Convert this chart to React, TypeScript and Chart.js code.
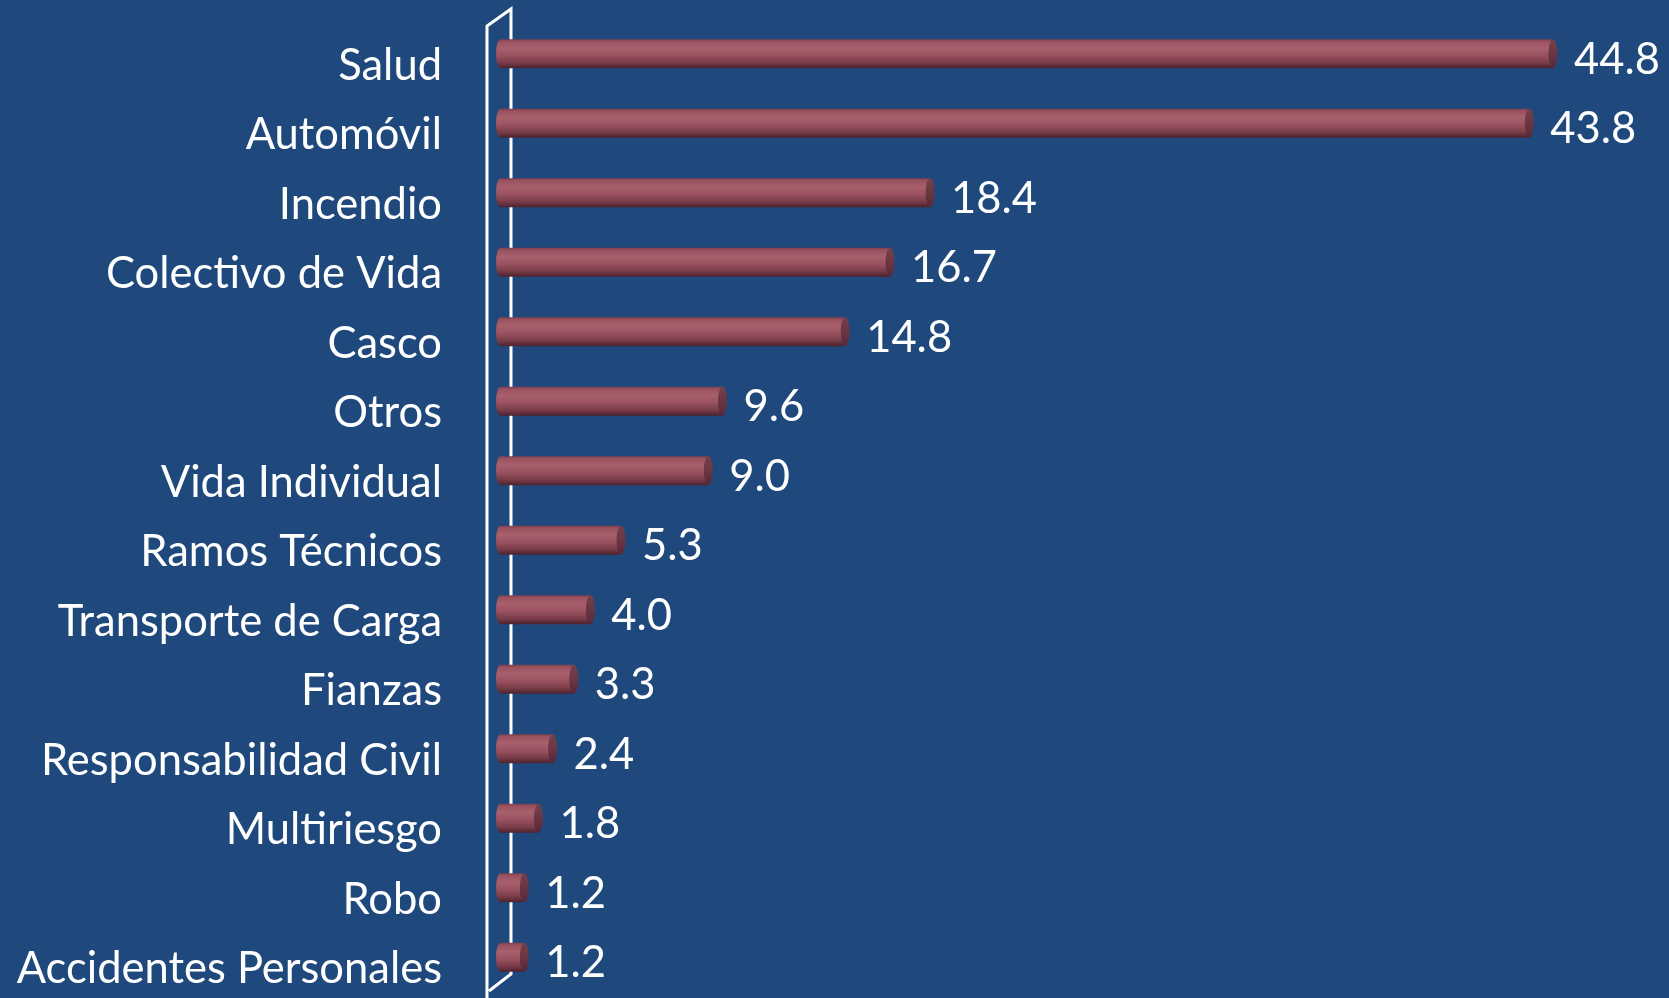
import React, { useEffect, useRef } from "react";
import { Chart, registerables } from "chart.js";

Chart.register(...registerables);

const categories = [
  "Salud",
  "Automóvil",
  "Incendio",
  "Colectivo de Vida",
  "Casco",
  "Otros",
  "Vida Individual",
  "Ramos Técnicos",
  "Transporte de Carga",
  "Fianzas",
  "Responsabilidad Civil",
  "Multiriesgo",
  "Robo",
  "Accidentes Personales",
];
const values = [44.8, 43.8, 18.4, 16.7, 14.8, 9.6, 9.0, 5.3, 4.0, 3.3, 2.4, 1.8, 1.2, 1.2];

const BG = "#1F497D";
const FONT = "Lato, 'Open Sans', sans-serif";
const FONT_SIZE = 43.5;

const bgPlugin = {
  id: "bg",
  beforeDraw(chart: any) {
    const { ctx, width, height } = chart;
    ctx.save();
    ctx.fillStyle = BG;
    ctx.fillRect(0, 0, width, height);
    ctx.restore();
  },
};

const wallPlugin = {
  id: "wall",
  beforeDatasetsDraw(chart: any) {
    const { ctx, chartArea } = chart;
    const back = chartArea.left + 15;
    const front = chartArea.left - 9;
    const topBack = chartArea.top - 10;
    const topFront = topBack + 17;
    const botBack = chartArea.bottom - 18;
    ctx.save();
    ctx.strokeStyle = "#FFFFFF";
    ctx.lineWidth = 3;
    ctx.beginPath();
    ctx.moveTo(front, chart.height + 5);
    ctx.lineTo(front, topFront);
    ctx.lineTo(back, topBack);
    ctx.lineTo(back, botBack);
    ctx.lineTo(front + 2, botBack + 17);
    ctx.stroke();
    ctx.restore();
  },
};

const cylinderPlugin = {
  id: "cylinder",
  afterDatasetsDraw(chart: any) {
    const { ctx } = chart;
    const meta = chart.getDatasetMeta(0);
    ctx.save();
    meta.data.forEach((bar: any, i: number) => {
      const h = bar.height;
      const top = bar.y - h / 2;
      const bot = bar.y + h / 2;
      const rx = 4.5;
      const x0 = bar.base + rx;
      const x1 = bar.x;
      const g = ctx.createLinearGradient(0, top, 0, bot);
      g.addColorStop(0, "#7A3E4C");
      g.addColorStop(0.08, "#99515F");
      g.addColorStop(0.3, "#A8606D");
      g.addColorStop(0.55, "#9A5260");
      g.addColorStop(0.8, "#7A3C49");
      g.addColorStop(1, "#4A222D");
      ctx.fillStyle = g;
      ctx.beginPath();
      ctx.moveTo(x1, top);
      ctx.lineTo(x0, top);
      ctx.ellipse(x0, bar.y, rx, h / 2, 0, -Math.PI / 2, Math.PI / 2, true);
      ctx.lineTo(x1, bot);
      ctx.closePath();
      ctx.fill();
      const cg = ctx.createLinearGradient(0, top, 0, bot);
      cg.addColorStop(0, "#74404C");
      cg.addColorStop(0.5, "#6A3642");
      cg.addColorStop(1, "#55283A");
      ctx.fillStyle = cg;
      ctx.beginPath();
      ctx.ellipse(x1, bar.y, rx, h / 2, 0, 0, Math.PI * 2);
      ctx.fill();
      ctx.fillStyle = "#FFFFFF";
      ctx.font = `${FONT_SIZE}px ${FONT}`;
      ctx.textAlign = "left";
      ctx.textBaseline = "middle";
      ctx.fillText(values[i].toFixed(1), x1 + 21, bar.y + 6);
    });
    ctx.restore();
  },
};

export default function App() {
  const ref = useRef<HTMLCanvasElement>(null);
  useEffect(() => {
    if (!ref.current) return;
    const chart = new Chart(ref.current, {
      type: "bar",
      data: {
        labels: categories,
        datasets: [
          {
            data: values,
            backgroundColor: "rgba(0,0,0,0)",
            borderWidth: 0,
            barPercentage: 0.42,
            categoryPercentage: 1,
          },
        ],
      },
      options: {
        indexAxis: "y",
        responsive: false,
        animation: false,
        devicePixelRatio: 1,
        layout: { padding: { top: 19, bottom: 6, right: 109, left: 0 } },
        plugins: { legend: { display: false }, tooltip: { enabled: false } },
        scales: {
          x: { display: false, min: 0, max: 45.1 },
          y: {
            grid: { display: false, drawTicks: true, tickLength: 54 },
            border: { display: false },
            ticks: {
              color: "#FFFFFF",
              font: { family: FONT, size: FONT_SIZE, lineHeight: 0.2 },
              padding: 0,
              labelOffset: 12,
              autoSkip: false,
            },
            afterFit: (s: any) => {
              s.width = 496;
              s.paddingTop = 0;
              s.paddingBottom = 0;
            },
          },
        },
      },
      plugins: [bgPlugin, wallPlugin, cylinderPlugin],
    } as any);
    return () => chart.destroy();
  }, []);
  return (
    <div style={{ position: "fixed", left: 0, top: 0, width: 1669, height: 998, background: BG }}>
      <canvas ref={ref} width={1669} height={998} style={{ display: "block" }} />
    </div>
  );
}
